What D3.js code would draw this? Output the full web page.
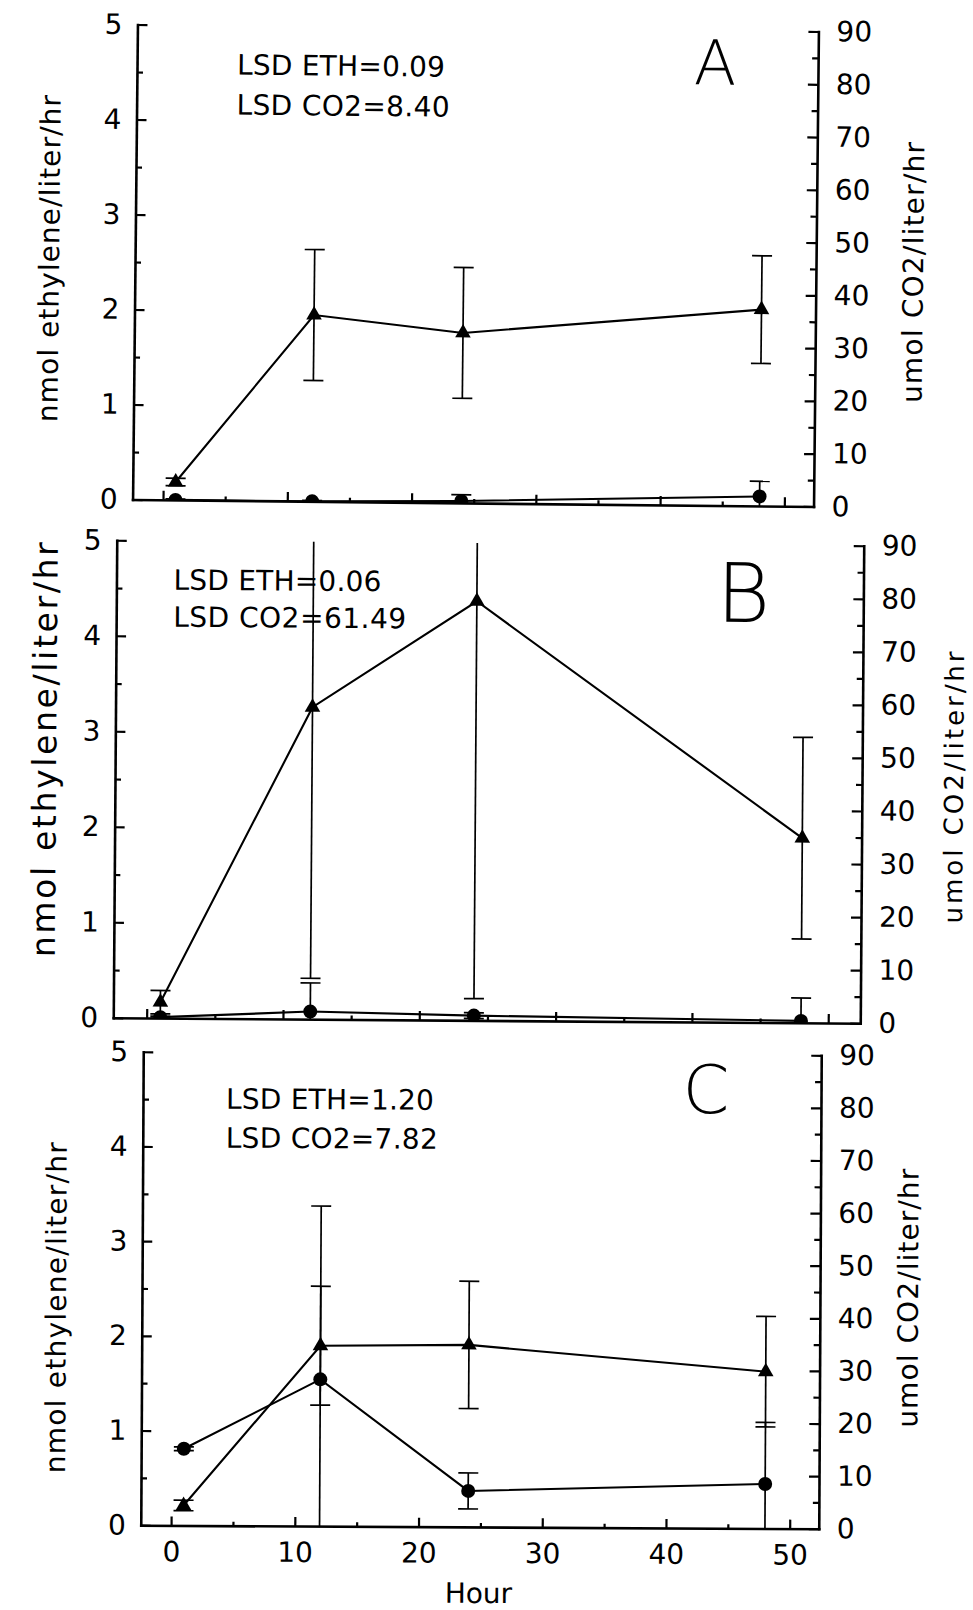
<!DOCTYPE html>
<html>
<head>
<meta charset="utf-8">
<script src="https://cdn.jsdelivr.net/npm/d3@7"></script>
<style>
  body { margin: 0; background: #fff; }
  svg { display: block; }
</style>
</head>
<body>
<script>
document.addEventListener("DOMContentLoaded", () => {

const width = 973;
const height = 1610;
const FONT = "DejaVu Sans, sans-serif";

// sampling times (hours) and axis ticks
const hours = [1, 12, 24, 48];
const ethTicks = [0, 1, 2, 3, 4, 5];
const co2Ticks = [0, 10, 20, 30, 40, 50, 60, 70, 80, 90];
const hourTicks = [0, 10, 20, 30, 40, 50];

// panel A
const co2A = [3.4, 35.3, 32.2, 37.2];
const co2ErrA = [0.7, 12.4, 12.4, 10.2];
const ethA = [0.0, 0.0, 0.02, 0.10];
const ethErrA = [0.01, 0.01, 0.065, 0.16];

// panel B
const co2B = [3.0, 58.8, 79.0, 34.8];
const co2ErrB = [2.2, 51.1, 74.9, 19.0];
const ethB = [0.01, 0.08, 0.05, 0.02];
const ethErrB = [0.01, 0.30, 0.03, 0.24];

// panel C
const co2C = [3.8, 34.3, 34.6, 29.8];
const co2ErrC = [1.0, 11.3, 12.1, 10.5];
const ethC = [0.81, 1.55, 0.38, 0.47];
const ethErrC = [0.02, 1.83, 0.19, 0.65];

const panelNames = ["A", "B", "C"];
const lsdEth = ["0.09", "0.06", "1.20"];
const lsdCo2 = ["8.40", "61.49", "7.82"];

const series = [
    { co2: co2A, co2Err: co2ErrA, eth: ethA, ethErr: ethErrA },
    { co2: co2B, co2Err: co2ErrB, eth: ethB, ethErr: ethErrB },
    { co2: co2C, co2Err: co2ErrC, eth: ethC, ethErr: ethErrC }
];

// where each scanned panel sits on the page
const layout = [
    { x0: 135, x1: 816, top: 28, bottom: 503, rot: 0.59,
      letter: { x: 713, y: 82, size: 62 },
      lsd: { x: 235, y: 77, dy: 40, len1: 208, len2: 213 },
      leftTitle: { x: 59, y: 263, len: 327, size: 28 },
      rightTitle: { x: 923, y: 268, len: 261, size: 28 }, hourLabels: false },
    { x0: 115, x1: 862, top: 543, bottom: 1020.5, rot: 0.42,
      letter: { x: 742, y: 620, size: 82 },
      lsd: { x: 172, y: 592, dy: 37, len1: 208, len2: 233 },
      leftTitle: { x: 56, y: 753, len: 415, size: 33 },
      rightTitle: { x: 963, y: 784, len: 272, size: 26 }, hourLabels: false },
    { x0: 142, x1: 820, top: 1053.5, bottom: 1527, rot: 0.3,
      letter: { x: 705, y: 1112, size: 67 },
      lsd: { x: 225, y: 1110, dy: 39, len1: 208, len2: 212 },
      leftTitle: { x: 66, y: 1310, len: 331, size: 28 },
      rightTitle: { x: 918, y: 1296, len: 259, size: 28 }, hourLabels: true }
];

const svg = d3.select("body").append("svg")
    .attr("width", width)
    .attr("height", height)
    .attr("font-family", FONT);

function styleAxis(sel) {
    sel.attr("font-size", 28).attr("font-family", FONT);
    sel.selectAll("path").attr("stroke", "#000").attr("stroke-width", 2.6).attr("stroke-linecap", "square");
    sel.selectAll("line").attr("stroke", "#000").attr("stroke-width", 2.2);
    sel.selectAll("text").attr("fill", "#000");
}

layout.forEach((L, i) => {
    const s = series[i];

    const x = d3.scaleLinear().domain([-2.45, 52.35]).range([L.x0, L.x1]);
    const yEth = d3.scaleLinear().domain([0, 5]).range([L.bottom, L.top]);
    const yCo2 = d3.scaleLinear().domain([0, 90]).range([L.bottom, L.top]);

    const cx = (L.x0 + L.x1) / 2, cy = (L.top + L.bottom) / 2;
    const g = svg.append("g").attr("transform", `rotate(${L.rot},${cx},${cy})`);

    g.append("clipPath").attr("id", "clip" + i)
        .append("rect")
        .attr("x", L.x0).attr("y", L.top)
        .attr("width", L.x1 - L.x0).attr("height", L.bottom - L.top);

    // minor ticks
    g.append("g").attr("transform", `translate(${L.x0},0)`)
        .call(d3.axisLeft(yEth).tickValues(d3.range(0.5, 5, 1)).tickSizeInner(-6).tickSizeOuter(0).tickFormat(""))
        .call(a => a.select(".domain").remove())
        .call(styleAxis);
    g.append("g").attr("transform", `translate(${L.x1},0)`)
        .call(d3.axisRight(yCo2).tickValues(d3.range(5, 90, 10)).tickSizeInner(-6).tickSizeOuter(0).tickFormat(""))
        .call(a => a.select(".domain").remove())
        .call(styleAxis);
    g.append("g").attr("transform", `translate(0,${L.bottom})`)
        .call(d3.axisBottom(x).tickValues(d3.range(5, 50, 10)).tickSizeInner(-4).tickSizeOuter(0).tickFormat(""))
        .call(a => a.select(".domain").remove())
        .call(styleAxis);

    // main axes
    g.append("g").attr("transform", `translate(${L.x0},0)`)
        .call(d3.axisLeft(yEth).tickValues(ethTicks).tickSizeInner(-10).tickSizeOuter(0).tickPadding(15)
            .tickFormat(d3.format("d")))
        .call(styleAxis);
    g.append("g").attr("transform", `translate(${L.x1},0)`)
        .call(d3.axisRight(yCo2).tickValues(co2Ticks).tickSizeInner(-10).tickSizeOuter(0).tickPadding(18)
            .tickFormat(d3.format("d")))
        .call(styleAxis);
    g.append("g").attr("transform", `translate(0,${L.bottom})`)
        .call(d3.axisBottom(x).tickValues(hourTicks).tickSizeInner(-9).tickSizeOuter(0).tickPadding(16)
            .tickFormat(L.hourLabels ? d3.format("d") : () => ""))
        .call(styleAxis);

    // axis titles
    g.append("text")
        .attr("transform", `translate(${L.leftTitle.x},${L.leftTitle.y}) rotate(-90)`)
        .attr("text-anchor", "middle")
        .attr("font-size", L.leftTitle.size)
        .attr("textLength", L.leftTitle.len)
        .attr("lengthAdjust", "spacing")
        .text("nmol ethylene/liter/hr");
    g.append("text")
        .attr("transform", `translate(${L.rightTitle.x},${L.rightTitle.y}) rotate(-90)`)
        .attr("text-anchor", "middle")
        .attr("font-size", L.rightTitle.size)
        .attr("textLength", L.rightTitle.len)
        .attr("lengthAdjust", "spacing")
        .text("umol CO2/liter/hr");

    // LSD notes
    g.append("text")
        .attr("x", L.lsd.x).attr("y", L.lsd.y)
        .attr("font-size", 28)
        .attr("textLength", L.lsd.len1).attr("lengthAdjust", "spacing")
        .text(`LSD ETH=${lsdEth[i]}`);
    g.append("text")
        .attr("x", L.lsd.x).attr("y", L.lsd.y + L.lsd.dy)
        .attr("font-size", 28)
        .attr("textLength", L.lsd.len2).attr("lengthAdjust", "spacing")
        .text(`LSD CO2=${lsdCo2[i]}`);

    // panel letter
    g.append("text")
        .attr("x", L.letter.x).attr("y", L.letter.y)
        .attr("text-anchor", "middle")
        .attr("font-size", L.letter.size)
        .attr("font-weight", 200)
        .text(panelNames[i]);

    if (L.hourLabels) {
        g.append("text")
            .attr("x", 480).attr("y", 1603)
            .attr("text-anchor", "middle")
            .attr("font-size", 28)
            .text("Hour");
    }

    // data
    const plot = g.append("g").attr("clip-path", `url(#clip${i})`);

    const co2Pts = hours.map((h, k) => ({ h, v: s.co2[k], e: s.co2Err[k] }));
    const ethPts = hours.map((h, k) => ({ h, v: s.eth[k], e: s.ethErr[k] }));

    const drawErr = (pts, y) => {
        const eg = plot.append("g").attr("stroke", "#000").attr("stroke-width", 1.7);
        pts.forEach(d => {
            const xp = x(d.h), y1 = y(d.v + d.e), y0 = y(d.v - d.e);
            eg.append("line").attr("x1", xp).attr("x2", xp).attr("y1", y0).attr("y2", y1);
            eg.append("line").attr("x1", xp - 10).attr("x2", xp + 10).attr("y1", y1).attr("y2", y1);
            eg.append("line").attr("x1", xp - 10).attr("x2", xp + 10).attr("y1", y0).attr("y2", y0);
        });
    };
    drawErr(co2Pts, yCo2);
    drawErr(ethPts, yEth);

    plot.append("path").datum(co2Pts)
        .attr("fill", "none").attr("stroke", "#000").attr("stroke-width", 2.1)
        .attr("d", d3.line().x(d => x(d.h)).y(d => yCo2(d.v)));
    plot.append("path").datum(ethPts)
        .attr("fill", "none").attr("stroke", "#000").attr("stroke-width", 2.1)
        .attr("d", d3.line().x(d => x(d.h)).y(d => yEth(d.v)));

    plot.selectAll(".tri").data(co2Pts).enter().append("path")
        .attr("class", "tri")
        .attr("transform", d => `translate(${x(d.h)},${yCo2(d.v)})`)
        .attr("d", d3.symbol(d3.symbolTriangle).size(105))
        .attr("fill", "#000");
    plot.selectAll(".dot").data(ethPts).enter().append("circle")
        .attr("class", "dot")
        .attr("cx", d => x(d.h))
        .attr("cy", d => yEth(d.v))
        .attr("r", 7)
        .attr("fill", "#000");
});

});
</script>
</body>
</html>
